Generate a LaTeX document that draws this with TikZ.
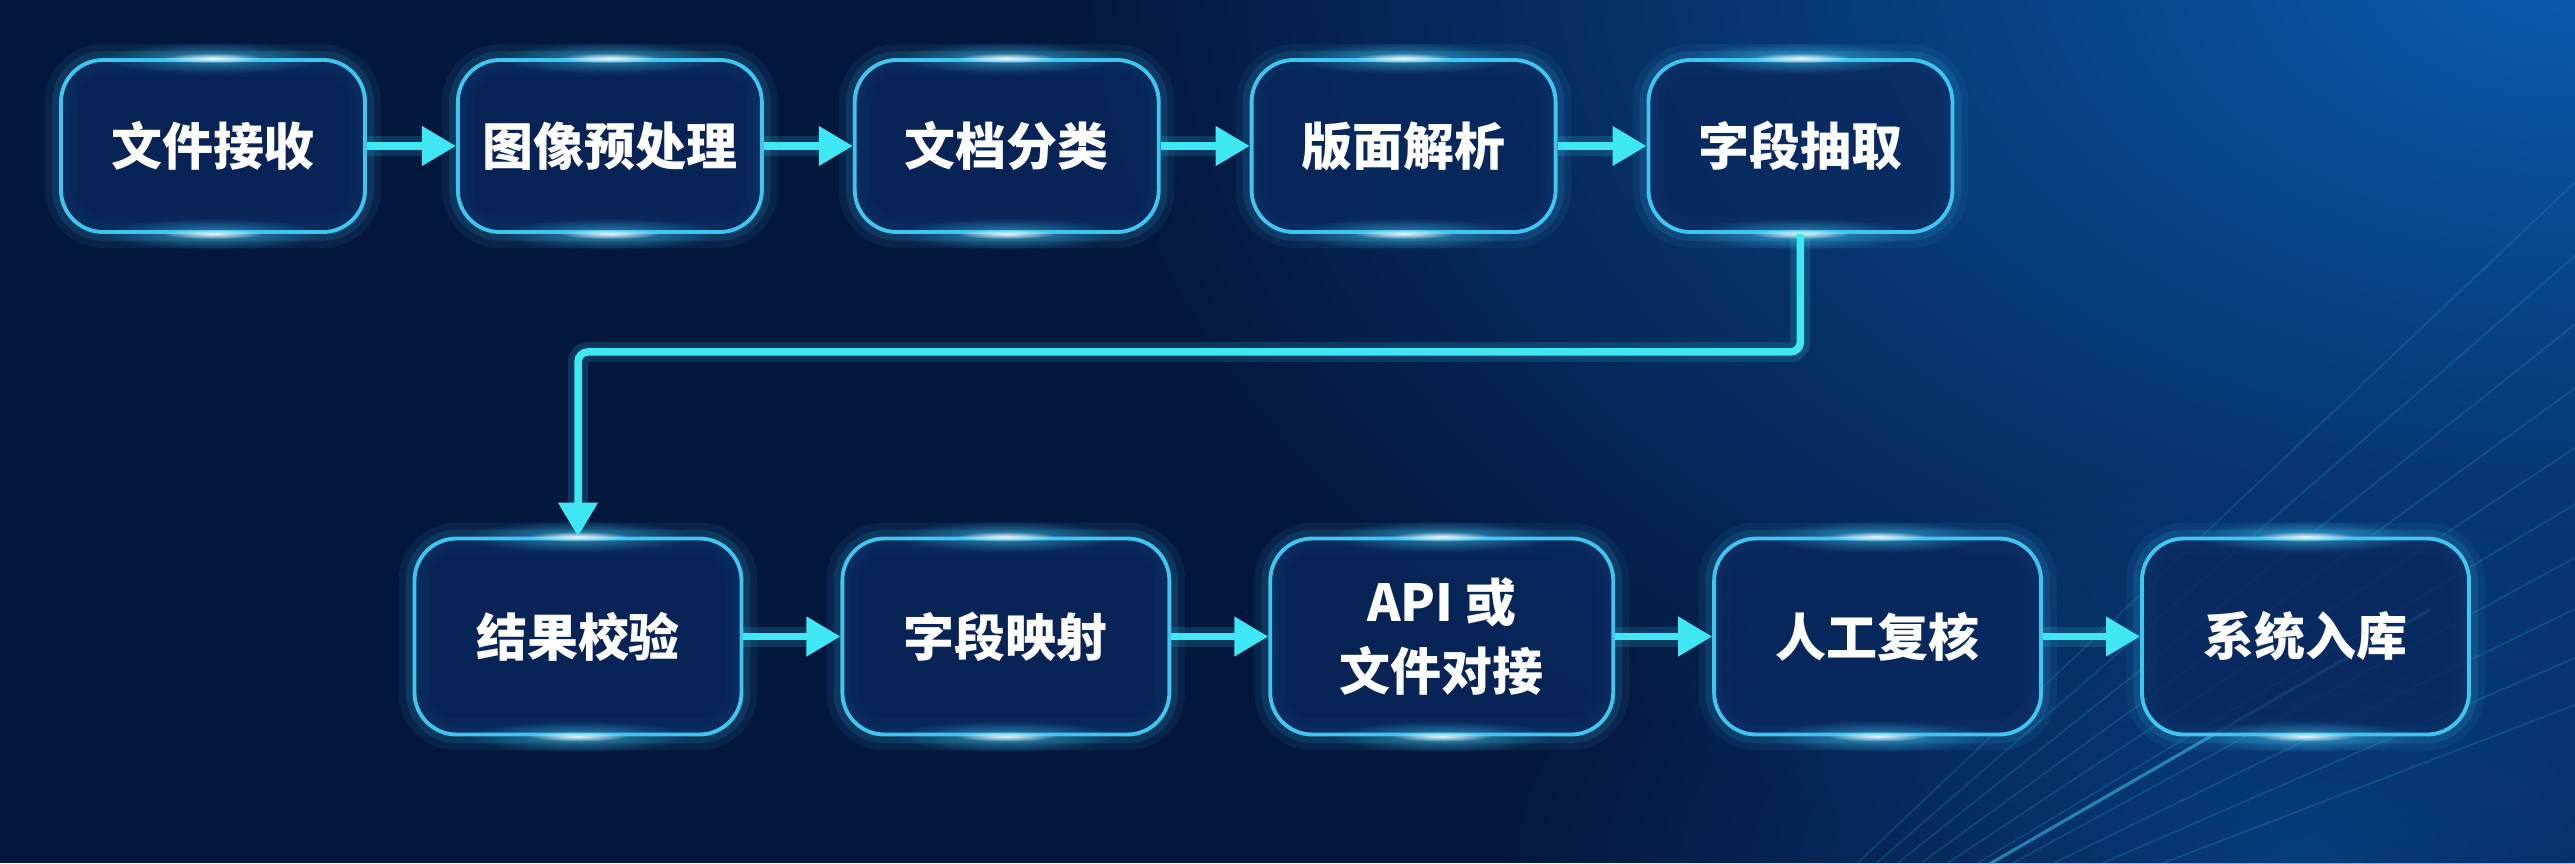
\documentclass[tikz,border=0pt]{standalone}
\usepackage{fontspec}
\newfontfamily\cjk{Noto Sans CJK SC}
\usepackage{xcolor}
\usetikzlibrary{arrows.meta, positioning, calc, fadings}
\definecolor{bgdark}{HTML}{04183E}
\definecolor{bgglow}{HTML}{0B5CB0}
\definecolor{boxfill}{HTML}{09285E}
\definecolor{edge}{HTML}{40C4F0}
\definecolor{flowc}{HTML}{3FE6F4}
\tikzfading[name=softglow, inner color=transparent!0, outer color=transparent!100]

\begin{document}
\begin{tikzpicture}[node distance=0.89cm,
    stage/.style={draw=edge, line width=1.1pt, fill=boxfill, fill opacity=0.8, text opacity=1,
        rounded corners=0.42cm, minimum height=1.72cm, minimum width=3.04cm, inner sep=0pt,
        align=center, text=white, font=\cjk\bfseries\fontsize{14.5}{19.6}\selectfont,
        preaction={draw=edge, line width=9pt, draw opacity=0.07},
        preaction={draw=edge, line width=5pt, draw opacity=0.12}},
    low/.style={stage, minimum height=1.96cm, minimum width=3.27cm},
    flow/.style={draw=flowc, line width=0.075cm, -{Triangle[length=0.34cm, width=0.38cm]},
        preaction={draw=flowc, line width=0.2cm, draw opacity=0.15, -, shorten >=0.3cm}}]

    % background
    \useasboundingbox (0,0) rectangle (25.75,-8.63);
    \fill[bgdark] (0,0) rectangle (25.75,-8.63);
    \begin{scope}
        \clip (0,0) rectangle (25.75,-8.63);
        \fill[bgglow, path fading=softglow] (25.75,0.5) ellipse (15cm and 10cm);
        \fill[bgglow, path fading=softglow, opacity=0.5] (23,-8.63) ellipse (8cm and 4cm);
        \foreach \ang in {21,23.5,...,44}
            \draw[edge, opacity=0.16, line width=0.5pt] (16.5,-10.6) -- ++(\ang:14);
        \draw[edge, opacity=0.55, line width=0.9pt] (16.5,-10.6) -- ++(30:9);
    \end{scope}

    \node[stage] (recv) at (2.13,-1.46) {文件接收};
    \node[stage, right=of recv] (prep) {图像预处理};
    \node[stage, right=of prep] (sort) {文档分类};
    \node[stage, right=of sort] (layout) {版面解析};
    \node[stage, right=of layout] (extract) {字段抽取};

    \node[low] (check) at (5.78,-6.365) {结果校验};
    \node[low, right=0.97cm of check] (mapping) {字段映射};
    \node[low, right=0.97cm of mapping, minimum width=3.43cm] (api) {API 或\\文件对接};
    \node[low, right=0.97cm of api] (review) {人工复核};
    \node[low, right=0.97cm of review] (store) {系统入库};

    \foreach \n in {recv,prep,sort,layout,extract,check,mapping,api,review,store} {
        \fill[edge, path fading=softglow, opacity=0.6] (\n.north) ellipse (1.1cm and 0.16cm);
        \fill[white, path fading=softglow, opacity=0.9] (\n.north) ellipse (0.5cm and 0.05cm);
        \fill[edge, path fading=softglow, opacity=0.6] (\n.south) ellipse (1.1cm and 0.16cm);
        \fill[white, path fading=softglow, opacity=0.9] (\n.south) ellipse (0.5cm and 0.05cm);
    }

    \foreach \a/\b in {recv/prep, prep/sort, sort/layout, layout/extract,
                       check/mapping, mapping/api, api/review, review/store}
        \draw[flow] (\a) -- (\b);
    \draw[flow, rounded corners=0.1cm] (extract.south) -- ++(0,-1.18) -| (check.north);
\end{tikzpicture}
\end{document}
